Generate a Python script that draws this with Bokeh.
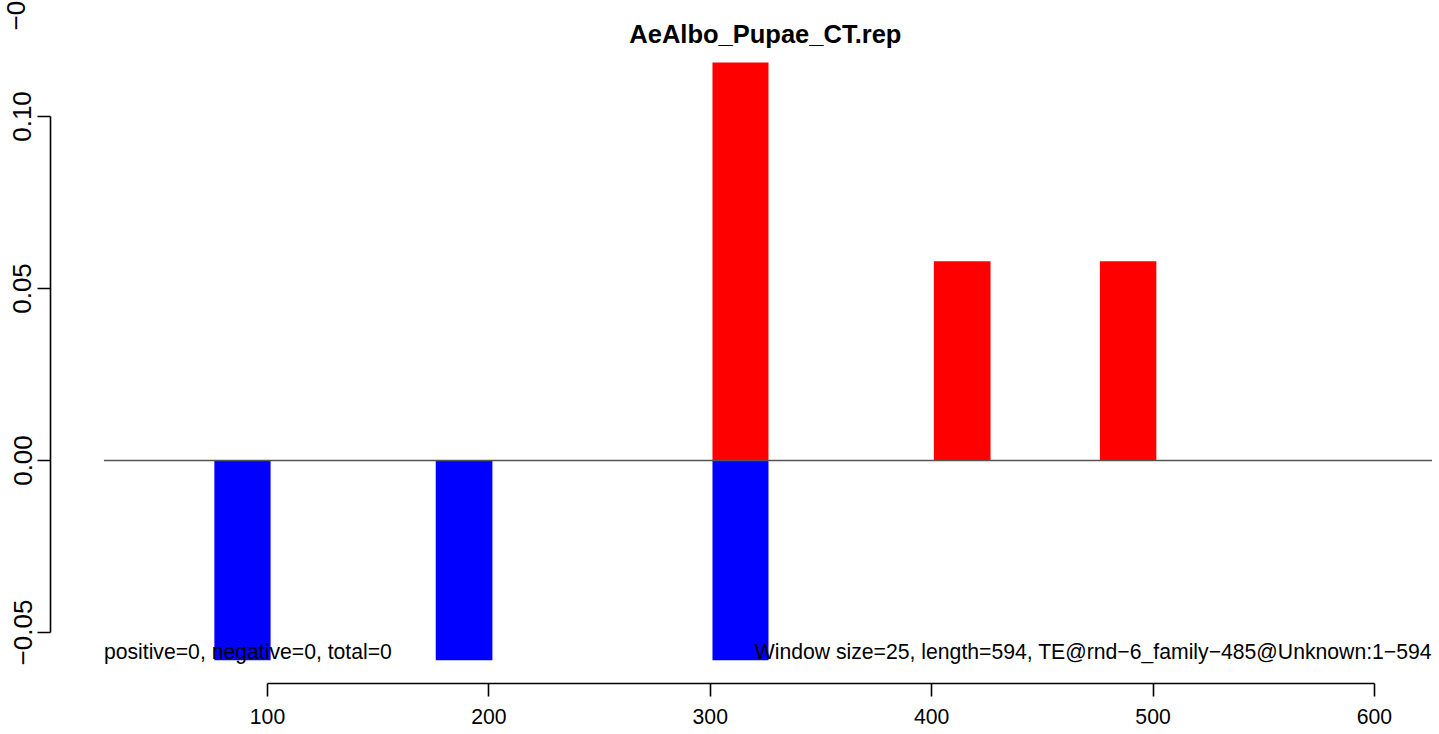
import math
from bokeh.plotting import figure
from bokeh.models import FixedTicker, CustomJSTickFormatter, Range1d
from bokeh.core.properties import value
from bokeh.embed import file_html
from bokeh.resources import INLINE

# ---- data ----
title_text = "AeAlbo_Pupae_CT.rep"
neg_starts = [76, 176, 301]
neg_ends = [101.4, 201.6, 326.3]
neg_vals = [-0.0581, -0.0581, -0.0581]
pos_starts = [301, 401, 476]
pos_ends = [326.3, 426.6, 501.5]
pos_vals = [0.1157, 0.0579, 0.0579]
x_ticks = [100, 200, 300, 400, 500, 600]
y_ticks = [-0.05, 0.0, 0.05, 0.10]
span_x = [26.1, 626.0]
left_note = "positive=0, negative=0, total=0"
right_note = "Window size=25, length=594, TE@rnd\u22126_family\u2212485@Unknown:1\u2212594"
cut_label = "\u22120.05"   # tick label of the panel above, cut by the top edge

FONT = "Liberation Sans"

# plot region of the original R panel: left edge x=2.0, bottom edge y=-0.0648
X_AXIS_AT = -0.06483
Y_AXIS_AT = 1.99

p = figure(width=1439, height=734, output_backend="svg", toolbar_location=None,
           x_range=Range1d(-20.6, 629.4), y_range=Range1d(-0.07965, 0.13372),
           min_border_left=0, min_border_right=0, min_border_top=0, min_border_bottom=0)
p.outline_line_color = None
p.xgrid.visible = False
p.ygrid.visible = False
p.background_fill_color = "white"
p.border_fill_color = "white"

# bars
p.quad(left=neg_starts, right=neg_ends, bottom=0, top=neg_vals, fill_color="#0000ff", line_color=None)
p.quad(left=pos_starts, right=pos_ends, bottom=0, top=pos_vals, fill_color="#ff0000", line_color=None)

# zero line
p.line(x=span_x, y=[0, 0], line_color="#555555", line_width=1.3)

# notes
p.text(x=[span_x[0]], y=[-0.0555], text=[left_note], text_align="left", text_baseline="middle",
       text_font=value(FONT), text_font_size="21.2px", text_color="black")
p.text(x=[span_x[1]], y=[-0.0555], text=[right_note], text_align="right", text_baseline="middle",
       text_font=value(FONT), text_font_size="21.2px", text_color="black")

# title
p.text(x=[324.9], y=[0.1241], text=[title_text], text_align="center", text_baseline="middle",
       text_font=value(FONT), text_font_size="25.5px", text_font_style="bold", text_color="black")

# cut-off tick label of the panel above
p.text(x=[-13.8], y=[0.1250], text=[cut_label], angle=math.pi / 2,
       text_align="left", text_baseline="middle",
       text_font=value(FONT), text_font_size="26px", text_color="black")

# x axis
xa = p.xaxis[0]
xa.fixed_location = X_AXIS_AT
xa.ticker = FixedTicker(ticks=x_ticks)
xa.bounds = (x_ticks[0], x_ticks[-1])
xa.major_tick_out = 13
xa.major_tick_in = 0
xa.minor_tick_line_color = None
xa.axis_line_width = 1.6
xa.major_tick_line_width = 1.6
xa.major_label_standoff = 12
xa.major_label_text_font = FONT
xa.major_label_text_font_size = "21.2px"
xa.major_label_text_color = "black"

# y axis
ya = p.yaxis[0]
ya.fixed_location = Y_AXIS_AT
ya.ticker = FixedTicker(ticks=y_ticks)
ya.bounds = (y_ticks[0], y_ticks[-1])
ya.major_tick_out = 13
ya.major_tick_in = 0
ya.minor_tick_line_color = None
ya.axis_line_width = 1.6
ya.major_tick_line_width = 1.6
ya.major_label_standoff = 6
ya.major_label_orientation = "vertical"
ya.major_label_text_font = FONT
ya.major_label_text_font_size = "26px"
ya.major_label_text_color = "black"
ya.formatter = CustomJSTickFormatter(code="""
    const s = Math.abs(tick).toFixed(2);
    return (tick < -1e-9 ? "\\u2212" : "") + s;
""")

open("out.html", "w").write(file_html(p, INLINE))
